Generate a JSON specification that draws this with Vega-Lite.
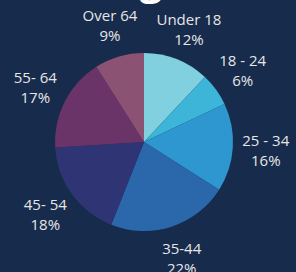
{
  "$schema": "https://vega.github.io/schema/vega-lite/v6.json",
  "width": 288,
  "height": 284,
  "autosize": {"type": "none"},
  "padding": {"left": 0, "top": 0, "right": 8, "bottom": 0},
  "background": "#172b4d",
  "config": {"view": {"stroke": null}},
  "datasets": {
    "ages": [
      {"k": 1, "group": "Under 18", "pct": "12%", "value": 12},
      {"k": 2, "group": "18 - 24", "pct": "6%", "value": 6},
      {"k": 3, "group": "25 - 34", "pct": "16%", "value": 16},
      {"k": 4, "group": "35-44", "pct": "22%", "value": 22},
      {"k": 5, "group": "45- 54", "pct": "18%", "value": 18},
      {"k": 6, "group": "55- 64", "pct": "17%", "value": 17},
      {"k": 7, "group": "Over 64", "pct": "9%", "value": 9}
    ],
    "heading": [{"t": "Age", "pos": 0}]
  },
  "layer": [
    {
      "data": {"name": "ages"},
      "mark": {"type": "arc", "outerRadius": 89},
      "encoding": {
        "theta": {"field": "value", "type": "quantitative", "stack": true},
        "order": {"field": "k", "type": "quantitative"},
        "color": {"field": "group", "type": "nominal", "legend": null,
          "scale": {"domain": ["Under 18", "18 - 24", "25 - 34", "35-44", "45- 54", "55- 64", "Over 64"],
                    "range": ["#80d0df", "#3cb5d9", "#2e97cf", "#2b68ab", "#2f3474", "#6b3468", "#8b5274"]}}
      }
    },
    {
      "data": {"name": "ages"},
      "mark": {"type": "text", "radius": 122, "dy": -9, "font": "Open Sans", "fontSize": 15, "color": "#e6e6e6"},
      "encoding": {
        "theta": {"field": "value", "type": "quantitative", "stack": true},
        "order": {"field": "k", "type": "quantitative"},
        "text": {"field": "group", "type": "nominal"}
      }
    },
    {
      "data": {"name": "ages"},
      "mark": {"type": "text", "radius": 122, "dy": 11, "font": "Open Sans", "fontSize": 15, "color": "#e6e6e6"},
      "encoding": {
        "theta": {"field": "value", "type": "quantitative", "stack": true},
        "order": {"field": "k", "type": "quantitative"},
        "text": {"field": "pct", "type": "nominal"}
      }
    },
    {
      "data": {"name": "heading"},
      "mark": {"type": "text", "radius": 147, "dx": 5, "baseline": "alphabetic", "font": "Open Sans", "fontSize": 40, "fontWeight": "bold", "color": "#ffffff"},
      "encoding": {
        "theta": {"field": "pos", "type": "quantitative"},
        "text": {"field": "t", "type": "nominal"}
      }
    }
  ]
}
